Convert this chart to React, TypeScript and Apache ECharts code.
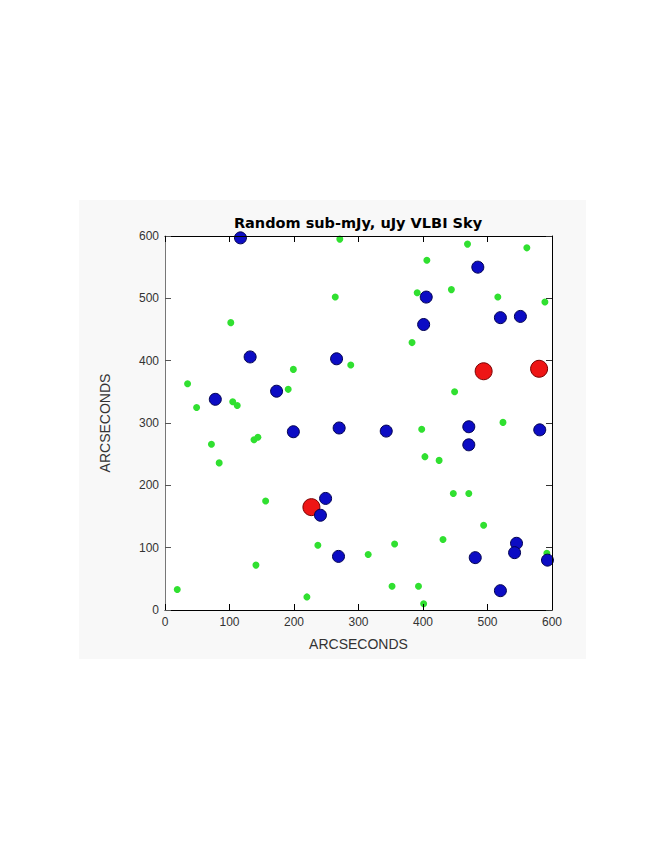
import React, { useEffect, useRef } from "react";
import * as echarts from "echarts";

const TITLE = "Random sub-mJy, uJy VLBI Sky";
const X_NAME = "ARCSECONDS";
const Y_NAME = "ARCSECONDS";
const AXIS_MIN = 0;
const AXIS_MAX = 600;
const AXIS_STEP = 100;

const greenPoints: [number, number][] = [
  [19, 33], [35, 363], [49, 325], [72, 266], [84, 236], [102, 461], [105, 334],
  [112, 328], [138, 273], [144, 277], [141, 72], [156, 175], [191, 354], [199, 386],
  [220, 21], [237, 104], [264, 502], [271, 595], [288, 393], [315, 89], [352, 38],
  [356, 106], [383, 429], [391, 509], [398, 290], [393, 38], [401, 10], [403, 246],
  [406, 561], [425, 240], [431, 113], [444, 514], [449, 350], [447, 187], [469, 587],
  [471, 187], [494, 136], [516, 502], [524, 301], [561, 581], [589, 494], [592, 91],
];

const bluePoints: [number, number][] = [
  [117, 597], [132, 406], [78, 338], [173, 351], [199, 286], [266, 403], [270, 292],
  [343, 287], [249, 179], [241, 152], [269, 86], [485, 550], [405, 502], [401, 458],
  [520, 469], [551, 471], [471, 294], [471, 265], [581, 289], [545, 107], [542, 92],
  [481, 84], [520, 31], [593, 80],
];

const redPoints: [number, number][] = [
  [227, 165], [494, 383], [580, 387],
];

export default function App() {
  const ref = useRef<HTMLDivElement>(null);
  useEffect(() => {
    if (!ref.current) return;
    const chart = echarts.init(ref.current, null, { renderer: "svg" });
    const labelStyle = {
      color: "#333",
      fontFamily: "Liberation Sans",
      fontSize: 12,
      margin: 6,
    };
    const tick = (color: string) => ({
      show: true,
      inside: true,
      length: 6,
      lineStyle: { color, width: 1 },
    });
    const baseAxis = {
      type: "value",
      min: AXIS_MIN,
      max: AXIS_MAX,
      interval: AXIS_STEP,
      splitLine: { show: false },
      z: 5,
    };
    chart.setOption({
      animation: false,
      backgroundColor: "#ffffff",
      graphic: [
        {
          type: "rect",
          z: -10,
          shape: { x: 79, y: 200, width: 507, height: 459 },
          style: { fill: "#f8f8f8" },
          silent: true,
        },
        {
          type: "rect",
          z: -9,
          shape: { x: 165, y: 236, width: 387, height: 374 },
          style: { fill: "#ffffff" },
          silent: true,
        },
        {
          type: "text",
          x: 358,
          y: 223,
          z: 10,
          style: {
            text: TITLE,
            fill: "#000",
            font: "bold 14.5px 'DejaVu Sans'",
            textAlign: "center",
            textVerticalAlign: "middle",
          },
        },
      ],
      grid: {
        left: 165,
        right: 113,
        top: 236,
        bottom: 250,
        show: false,
      },
      xAxis: [
        {
          ...baseAxis,
          position: "bottom",
          name: X_NAME,
          nameLocation: "middle",
          nameGap: 27,
          nameTextStyle: { color: "#333", fontFamily: "Liberation Sans", fontSize: 14 },
          axisLine: { show: true, onZero: false, lineStyle: { color: "#000", width: 1 } },
          axisTick: tick("#000"),
          axisLabel: labelStyle,
        },
        {
          ...baseAxis,
          position: "top",
          axisLine: { show: true, onZero: false, lineStyle: { color: "#000", width: 1 } },
          axisTick: tick("#000"),
          axisLabel: { show: false },
        },
      ],
      yAxis: [
        {
          ...baseAxis,
          position: "left",
          name: Y_NAME,
          nameLocation: "middle",
          nameGap: 53,
          nameTextStyle: { color: "#333", fontFamily: "Liberation Sans", fontSize: 14 },
          axisLine: { show: true, onZero: false, lineStyle: { color: "#777", width: 1 } },
          axisTick: tick("#555"),
          axisLabel: labelStyle,
        },
        {
          ...baseAxis,
          position: "right",
          axisLine: { show: true, onZero: false, lineStyle: { color: "#000", width: 1 } },
          axisTick: tick("#333"),
          axisLabel: { show: false },
        },
      ],
      series: [
        {
          type: "scatter",
          data: greenPoints,
          symbol: "circle",
          symbolSize: 7,
          itemStyle: { color: "#30e030", opacity: 1 },
          z: 2,
        },
        {
          type: "scatter",
          data: redPoints,
          symbol: "circle",
          symbolSize: 17,
          itemStyle: { color: "#ee1515", borderColor: "#7a0000", borderWidth: 1, opacity: 1 },
          z: 3,
        },
        {
          type: "scatter",
          data: bluePoints,
          symbol: "circle",
          symbolSize: 12,
          itemStyle: { color: "#0c0cc4", borderColor: "#000050", borderWidth: 1, opacity: 1 },
          z: 4,
        },
      ],
    });
    return () => chart.dispose();
  }, []);
  return (
    <div
      ref={ref}
      style={{ position: "absolute", left: 0, top: 0, width: 665, height: 860 }}
    />
  );
}
